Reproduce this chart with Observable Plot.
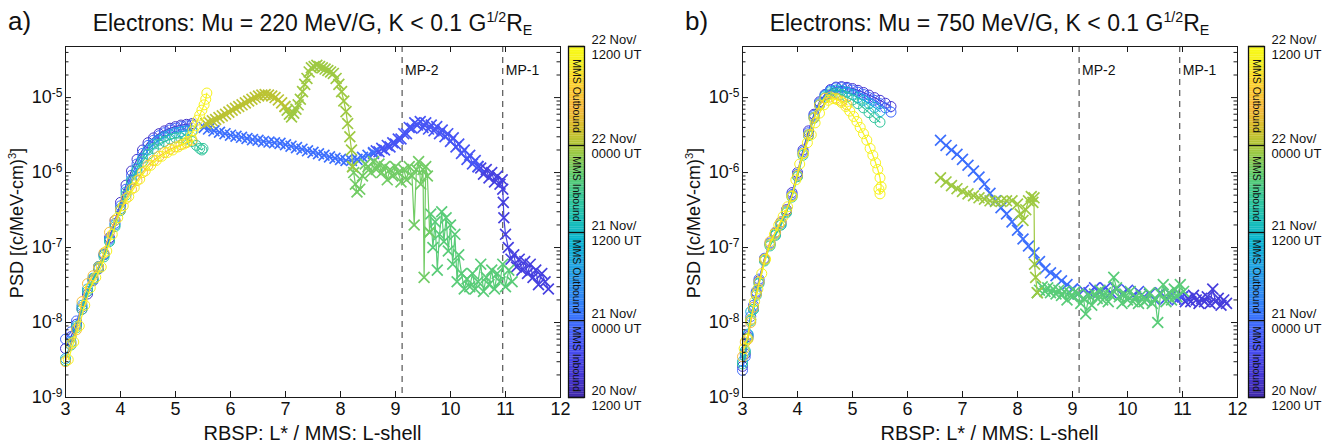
<!DOCTYPE html>
<html><head><meta charset="utf-8">
<script src="https://cdn.jsdelivr.net/npm/d3@7"></script>
<script src="https://cdn.jsdelivr.net/npm/@observablehq/plot@0.6"></script>
<style>
body{margin:0;background:#fff;}
#root{position:relative;width:1336px;height:447px;overflow:hidden;font-family:"Liberation Sans",Arial,Helvetica,sans-serif;color:#111;}
.abs{position:absolute;white-space:nowrap;}
.plabel{font-size:26px;line-height:30px;}
.title{font-size:23px;line-height:28px;text-align:center;}
.title sup,.ylab sup{font-size:0.62em;vertical-align:0;position:relative;top:-0.6em;}
.title sub{font-size:0.62em;vertical-align:0;position:relative;top:0.3em;}
.xlab{font-size:20px;line-height:22px;text-align:center;}
.ylab{font-size:18px;line-height:22px;text-align:center;transform-origin:50% 50%;transform:rotate(-90deg);}
#root svg{position:absolute;top:0;background:transparent;}
</style></head><body><div id="root"></div>
<script>
// ---------- axis / legend labels ----------
const xTicks = [3,4,5,6,7,8,9,10,11,12];
const yTicks = [1e-9,1e-8,1e-7,1e-6,1e-5];
const mpL = [9.12, 10.95];
const mpLabels = ["MP-2","MP-1"];
const cbTickPos = [0, 0.219, 0.470, 0.718, 1];
const cbTickLabels = ["20 Nov/\n1200 UT","21 Nov/\n0000 UT","21 Nov/\n1200 UT","22 Nov/\n0000 UT","22 Nov/\n1200 UT"];
const cbSegNames = ["MMS Inbound","MMS Outbound","MMS Inbound","MMS Outbound"];

// ---------- panel a: RBSP (circles) ----------
const aRbspL = [3.0,3.1,3.2,3.3,3.4,3.5,3.6,3.7,3.8,3.9,4.0,4.1,4.2,4.3,4.4,4.5,4.6,4.7,4.8,4.9,5.0,5.1,5.2,5.3];
const aRbsp1 = [4.5e-9,6.5e-9,9.5e-9,1.5e-8,2.4e-8,3.6e-8,5.2e-8,8e-8,1.35e-7,2.3e-7,4e-7,6.8e-7,1.05e-6,1.5e-6,2.0e-6,2.5e-6,2.9e-6,3.3e-6,3.6e-6,3.9e-6,4.1e-6,4.3e-6,4.4e-6,4.5e-6];
const aRbsp2 = [6e-9,7.5e-9,1.05e-8,1.6e-8,2.6e-8,3.8e-8,5.5e-8,8.2e-8,1.3e-7,2.1e-7,3.6e-7,6e-7,9.2e-7,1.3e-6,1.8e-6,2.3e-6,2.7e-6,3.1e-6,3.4e-6,3.7e-6,3.9e-6,4.1e-6,4.2e-6,4.3e-6];
const aRbsp3 = [3.3e-9,5.5e-9,9e-9,1.7e-8,2.8e-8,3.9e-8,5.6e-8,8e-8,1.25e-7,2e-7,3.3e-7,5.5e-7,8e-7,1.15e-6,1.55e-6,2.0e-6,2.4e-6,2.7e-6,3.0e-6,3.2e-6,3.4e-6,3.5e-6,3.6e-6,3.6e-6];
const aRbsp4L = [3.0,3.1,3.2,3.3,3.4,3.5,3.6,3.7,3.8,3.9,4.0,4.1,4.2,4.3,4.4,4.5,4.6,4.7,4.8,4.9,5.0,5.1,5.2,5.3,5.38,5.44,5.48,5.5];
const aRbsp4 = [3.1e-9,5e-9,8.5e-9,1.5e-8,2.6e-8,3.7e-8,5.3e-8,7.5e-8,1.2e-7,1.9e-7,3.1e-7,5e-7,7.5e-7,1.05e-6,1.4e-6,1.75e-6,2.1e-6,2.4e-6,2.6e-6,2.8e-6,2.9e-6,2.9e-6,2.8e-6,2.6e-6,2.3e-6,2.1e-6,2.0e-6,2.1e-6];
const aRbsp5 = [3e-9,5.2e-9,8e-9,1.9e-8,3.3e-8,4.2e-8,5.5e-8,8.5e-8,1.6e-7,2.3e-7,3.2e-7,4.5e-7,6e-7,7.8e-7,1.0e-6,1.25e-6,1.45e-6,1.65e-6,1.85e-6,2.05e-6,2.2e-6,2.35e-6,2.5e-6,2.7e-6];
const aRbsp6L = [3.05,3.15,3.25,3.35,3.45,3.55,3.65,3.75,3.85,3.95,4.05,4.15,4.25,4.35,4.45,4.55,4.65,4.75,4.85,4.95,5.05,5.15,5.22,5.28,5.32,5.36,5.4,5.44,5.48,5.52,5.55,5.57];
const aRbsp6 = [3.2e-9,5.5e-9,9e-9,1.7e-8,2.9e-8,4e-8,5.5e-8,9e-8,1.5e-7,2.5e-7,3.6e-7,4.8e-7,6.3e-7,8.2e-7,1.05e-6,1.25e-6,1.45e-6,1.65e-6,1.85e-6,2.0e-6,2.2e-6,2.4e-6,2.6e-6,3.0e-6,3.6e-6,4.2e-6,5e-6,5.8e-6,6.8e-6,8e-6,9.5e-6,1.15e-5];

// ---------- panel a: MMS (crosses) ----------
const aMmsIn1L = [11.78,11.72,11.66,11.6,11.55,11.5,11.45,11.4,11.35,11.3,11.25,11.2,11.15,11.1,11.05,11.0,10.97,10.96,10.95,10.94,10.9,10.85,10.8,10.75,10.7,10.65,10.6,10.55,10.5];
const aMmsIn1P = [2.8e-8,3.5e-8,4.5e-8,3.2e-8,5e-8,4e-8,6e-8,4.5e-8,6.5e-8,5e-8,7e-8,5.5e-8,8e-8,7e-8,1.0e-7,1.5e-7,2.5e-7,4e-7,6e-7,8e-7,7e-7,9e-7,7.5e-7,1.0e-6,8.5e-7,1.1e-6,9.5e-7,1.15e-6,1.2e-6];
const aMmsIn2L = [10.5,10.45,10.4,10.35,10.3,10.25,10.2,10.15,10.1,10.05,10.0,9.95,9.9,9.85,9.8,9.75,9.7,9.65,9.6,9.55,9.5,9.45,9.4,9.35,9.3,9.25,9.2,9.15,9.1,9.05,9.0,8.95,8.9,8.85,8.8,8.75,8.7,8.65,8.6];
const aMmsIn2P = [1.2e-6,1.45e-6,1.3e-6,1.7e-6,1.5e-6,2.0e-6,1.8e-6,2.4e-6,2.2e-6,2.9e-6,2.6e-6,3.3e-6,3.0e-6,3.7e-6,3.3e-6,4.1e-6,3.6e-6,4.3e-6,3.8e-6,4.6e-6,4.0e-6,4.8e-6,4.3e-6,4.6e-6,3.9e-6,4.0e-6,3.3e-6,3.3e-6,2.8e-6,2.8e-6,2.4e-6,2.5e-6,2.2e-6,2.3e-6,2.0e-6,2.1e-6,1.9e-6,1.95e-6,1.8e-6];
const aMmsOutL = [8.6,8.5,8.4,8.3,8.2,8.1,8.0,7.9,7.8,7.7,7.6,7.5,7.4,7.3,7.2,7.1,7.0,6.9,6.8,6.7,6.6,6.5,6.4,6.3,6.2,6.1,6.0,5.9,5.8,5.7,5.6,5.52];
const aMmsOutP = [1.85e-6,1.7e-6,1.6e-6,1.5e-6,1.45e-6,1.45e-6,1.5e-6,1.55e-6,1.62e-6,1.7e-6,1.78e-6,1.86e-6,1.95e-6,2.05e-6,2.15e-6,2.25e-6,2.35e-6,2.45e-6,2.5e-6,2.55e-6,2.6e-6,2.7e-6,2.75e-6,2.85e-6,2.95e-6,3.05e-6,3.15e-6,3.3e-6,3.45e-6,3.6e-6,3.8e-6,4.0e-6];
const aMmsG1L = [11.12,11.06,11.0,10.95,10.9,10.85,10.8,10.75,10.7,10.65,10.6,10.55,10.5,10.45,10.4,10.35,10.3,10.25,10.2,10.15,10.12,10.08,10.04,10.0,9.96,9.92,9.88,9.84,9.8,9.76,9.72,9.68,9.64,9.62];
const aMmsG1P = [3.5e-8,5e-8,3e-8,6e-8,3.5e-8,4.5e-8,2.8e-8,5e-8,3.2e-8,4e-8,2.6e-8,6e-8,3.5e-8,2.8e-8,4.5e-8,3e-8,3.8e-8,2.8e-8,4.5e-8,8e-8,3.5e-8,1.5e-7,6e-8,2e-7,9e-8,2.5e-7,1.2e-7,3e-7,1.5e-7,5e-8,2.2e-7,1.0e-7,2.8e-7,1.6e-7];
const aMmsG2L = [9.62,9.58,9.55,9.52,9.5,9.46,9.42,9.38,9.34,9.3,9.25,9.2,9.15,9.1,9.05,9.0,8.95,8.9,8.85,8.8,8.75,8.7,8.65,8.6,8.55,8.5,8.45,8.4,8.35,8.3,8.27,8.24,8.22];
const aMmsG2P = [1.6e-7,9e-7,1.2e-6,4e-8,1.1e-6,7e-7,1.4e-6,1.1e-6,2e-7,9e-7,1.2e-6,8e-7,1.1e-6,7.5e-7,1.0e-6,1.2e-6,9e-7,1.1e-6,8e-7,1.2e-6,1.0e-6,1.3e-6,1.1e-6,1.4e-6,1.0e-6,1.2e-6,1.3e-6,9e-7,6e-7,5.5e-7,7e-7,1.0e-6,1.2e-6];
const aMmsYgL = [8.22,8.2,8.17,8.13,8.1,8.06,8.02,7.97,7.92,7.87,7.82,7.77,7.72,7.67,7.62,7.57,7.52,7.47,7.43,7.39,7.35,7.31,7.27,7.23,7.19,7.15,7.11,7.07,7.03,6.99];
const aMmsYgP = [1.2e-6,2.0e-6,3.0e-6,4.5e-6,6.5e-6,9e-6,1.2e-5,1.5e-5,1.8e-5,2.1e-5,2.2e-5,2.3e-5,2.4e-5,2.5e-5,2.6e-5,2.7e-5,2.6e-5,2.5e-5,2.2e-5,1.8e-5,1.5e-5,1.2e-5,9.5e-6,8e-6,7e-6,6.2e-6,5.5e-6,6.0e-6,6.8e-6,7.6e-6];
const aMmsOlL = [6.99,6.93,6.87,6.81,6.75,6.69,6.63,6.57,6.51,6.45,6.39,6.33,6.27,6.21,6.15,6.09,6.03,5.97,5.91,5.85,5.79,5.73,5.67,5.61,5.55];
const aMmsOlP = [7.6e-6,8.5e-6,9.3e-6,1.0e-5,1.05e-5,1.08e-5,1.1e-5,1.08e-5,1.05e-5,1.0e-5,9.5e-6,9e-6,8.5e-6,8e-6,7.6e-6,7.2e-6,6.8e-6,6.4e-6,6.0e-6,5.7e-6,5.4e-6,5.1e-6,4.9e-6,4.7e-6,4.5e-6];

// ---------- panel b: RBSP (circles) ----------
const bRbspL = [3.0,3.05,3.1,3.15,3.2,3.25,3.3,3.4,3.5,3.6,3.7,3.8,3.9,4.0,4.1,4.2,4.3,4.4,4.5,4.6,4.7,4.8,4.9,5.0,5.1,5.2,5.3,5.4,5.5,5.6,5.7];
const bRbsp1 = [2.6e-9,3.8e-9,6.5e-9,1.1e-8,1.6e-8,2.5e-8,3.6e-8,7e-8,1.1e-7,1.6e-7,2.2e-7,3.2e-7,5.4e-7,1.0e-6,2.0e-6,3.6e-6,6e-6,8.8e-6,1.1e-5,1.28e-5,1.38e-5,1.4e-5,1.37e-5,1.32e-5,1.25e-5,1.17e-5,1.08e-5,1.0e-5,9.2e-6,8.4e-6,7.6e-6];
const bRbsp2 = [2.3e-9,3.5e-9,6.8e-9,1.2e-8,1.7e-8,2.6e-8,3.8e-8,7.2e-8,1.15e-7,1.55e-7,2.1e-7,3.1e-7,5.1e-7,9.5e-7,1.9e-6,3.4e-6,5.8e-6,8.5e-6,1.08e-5,1.25e-5,1.35e-5,1.36e-5,1.32e-5,1.26e-5,1.18e-5,1.1e-5,1.0e-5,9.2e-6,8.3e-6,7.3e-6,6.4e-6];
const bRbsp34L = [3.0,3.05,3.1,3.15,3.2,3.25,3.3,3.4,3.5,3.6,3.7,3.8,3.9,4.0,4.1,4.2,4.3,4.4,4.5,4.6,4.7,4.8,4.9,5.0,5.1,5.2,5.3,5.4,5.5];
const bRbsp3 = [3.0e-9,4.2e-9,7e-9,1.4e-8,1.5e-8,2.4e-8,3.4e-8,6.8e-8,1.1e-7,1.5e-7,2.0e-7,3.0e-7,4.9e-7,9e-7,1.8e-6,3.2e-6,5.5e-6,8.2e-6,1.05e-5,1.2e-5,1.26e-5,1.24e-5,1.18e-5,1.1e-5,1.0e-5,9.2e-6,8.3e-6,7.4e-6,6.5e-6];
const bRbsp4 = [2.8e-9,4e-9,6.2e-9,1.05e-8,1.5e-8,2.3e-8,3.3e-8,6.6e-8,1.05e-7,1.45e-7,2.0e-7,2.9e-7,4.7e-7,8.8e-7,1.7e-6,3.1e-6,5.3e-6,7.9e-6,1.0e-5,1.12e-5,1.15e-5,1.1e-5,1.02e-5,9.3e-6,8.3e-6,7.3e-6,6.3e-6,5.4e-6,4.7e-6];
const bRbsp5L = [3.0,3.05,3.1,3.15,3.2,3.25,3.3,3.4,3.5,3.6,3.7,3.8,3.9,4.0,4.1,4.2,4.3,4.4,4.5,4.6,4.7,4.8,4.9];
const bRbsp5 = [3.5e-9,5.5e-9,6e-9,1.0e-8,1.6e-8,2.4e-8,3.5e-8,7e-8,1.2e-7,1.6e-7,2.2e-7,3.1e-7,4.9e-7,9.2e-7,1.8e-6,3.2e-6,5.4e-6,8e-6,9.8e-6,1.02e-5,9.8e-6,9e-6,8e-6];
const bRbsp6L = [3.03,3.08,3.15,3.22,3.28,3.35,3.42,3.5,3.58,3.66,3.74,3.82,3.9,3.97,4.04,4.11,4.18,4.25,4.32,4.4,4.48,4.56,4.64,4.72,4.8,4.88,4.95,5.02,5.08,5.14,5.2,5.26,5.32,5.37,5.42,5.46,5.5,5.52,5.5,5.48];
const bRbsp6 = [4.5e-9,6e-9,1.1e-8,1.9e-8,2.8e-8,4.5e-8,7e-8,1.1e-7,1.5e-7,2.0e-7,2.6e-7,3.5e-7,4.8e-7,8e-7,1.3e-6,1.8e-6,2.5e-6,3.2e-6,4.6e-6,6.2e-6,8e-6,9.2e-6,9.7e-6,9.4e-6,8.6e-6,7.6e-6,6.6e-6,5.6e-6,4.8e-6,4.0e-6,3.3e-6,2.7e-6,2.1e-6,1.7e-6,1.35e-6,1.1e-6,8.5e-7,6.5e-7,5.2e-7,6e-7];

// ---------- panel b: MMS (crosses) ----------
const bMmsIn1L = [11.8,11.75,11.7,11.65,11.6,11.55,11.5,11.45,11.4,11.35,11.3,11.25,11.2,11.15,11.1,11.05,11.0];
const bMmsIn1P = [1.8e-8,2.0e-8,1.7e-8,2.1e-8,1.9e-8,2.8e-8,1.8e-8,2.2e-8,1.9e-8,2.1e-8,1.8e-8,2.0e-8,2.3e-8,1.9e-8,2.1e-8,1.9e-8,2.2e-8];
const bMmsIn2L = [11.0,10.9,10.8,10.7,10.6,10.5,10.4,10.3,10.2,10.1,10.0,9.9,9.8,9.7,9.6,9.5,9.4,9.3,9.2,9.1,9.0];
const bMmsIn2P = [2.2e-8,2.0e-8,2.3e-8,2.1e-8,2.5e-8,2.0e-8,2.4e-8,2.2e-8,2.6e-8,2.3e-8,2.7e-8,2.4e-8,2.8e-8,2.5e-8,2.9e-8,2.6e-8,2.9e-8,2.5e-8,2.7e-8,2.4e-8,2.8e-8];
const bMmsOutL = [9.0,8.9,8.8,8.7,8.6,8.5,8.4,8.3,8.2,8.1,8.0,7.9,7.8,7.7,7.6,7.5,7.4,7.3,7.2,7.1,7.0,6.9,6.8,6.7,6.6];
const bMmsOutP = [2.8e-8,3.2e-8,3.6e-8,4.2e-8,4.6e-8,5.2e-8,6.5e-8,8.5e-8,1.05e-7,1.3e-7,1.7e-7,2.2e-7,2.8e-7,3.4e-7,4.2e-7,5.3e-7,7e-7,8.7e-7,1.05e-6,1.25e-6,1.5e-6,1.75e-6,2.0e-6,2.3e-6,2.7e-6];
const bMmsGL = [11.02,10.96,10.9,10.85,10.8,10.75,10.7,10.65,10.6,10.55,10.5,10.45,10.4,10.35,10.3,10.25,10.2,10.15,10.1,10.05,10.0,9.95,9.9,9.85,9.8,9.75,9.7,9.65,9.6,9.55,9.5,9.45,9.4,9.35,9.3,9.24,9.2,9.15,9.1,9.05,9.0,8.95,8.9,8.85,8.8,8.75,8.7,8.65,8.6,8.55,8.5,8.45,8.4,8.36];
const bMmsGP = [2.6e-8,3.2e-8,2.2e-8,2.8e-8,2.0e-8,2.5e-8,1.9e-8,3.2e-8,2.4e-8,1.0e-8,2.1e-8,1.8e-8,2.5e-8,2.0e-8,1.9e-8,2.3e-8,1.8e-8,2.2e-8,1.9e-8,2.6e-8,2.0e-8,2.4e-8,1.8e-8,2.2e-8,2.9e-8,4.0e-8,2.3e-8,1.9e-8,2.5e-8,2.0e-8,2.7e-8,2.1e-8,2.4e-8,1.7e-8,2.3e-8,1.3e-8,2.1e-8,1.8e-8,2.4e-8,2.6e-8,2.2e-8,2.5e-8,2.0e-8,2.6e-8,2.3e-8,2.7e-8,2.4e-8,2.8e-8,2.5e-8,2.9e-8,2.6e-8,3.0e-8,2.7e-8,2.5e-8];
const bMmsYgL = [8.36,8.33,8.31,8.3,8.28,8.25,8.2,8.15,8.1,8.05,8.0,7.9,7.8,7.7,7.6,7.5,7.4,7.3,7.2,7.1,7.0,6.9,6.8,6.7,6.6];
const bMmsYgP = [2.5e-8,4e-8,6e-8,4.6e-7,4.0e-7,4.8e-7,4.2e-7,3.2e-7,2.3e-7,2.8e-7,3.8e-7,4.2e-7,4.2e-7,4.1e-7,4.1e-7,4.2e-7,4.4e-7,4.6e-7,4.9e-7,5.2e-7,5.6e-7,6.1e-7,6.7e-7,7.5e-7,8.5e-7];

// ---------- colour map (parula) ----------
const parulaIdx = [0,4,8,12,16,20,24,28,32,36,40,44,48,52,56,60,63];
const parulaRGB = [[0.2422,0.1504,0.6603],[0.2706,0.2147,0.8364],[0.2813,0.3006,0.9414],[0.2699,0.3892,0.9906],[0.1963,0.4847,0.9892],[0.1687,0.5720,0.9359],[0.1248,0.6559,0.8877],[0.0297,0.7082,0.8163],[0.0964,0.7500,0.7120],[0.2161,0.7843,0.5923],[0.3909,0.8029,0.4354],[0.6174,0.7876,0.2612],[0.8203,0.7498,0.1535],[0.9728,0.7298,0.2394],[0.9892,0.8136,0.1885],[0.9628,0.9373,0.1265],[0.9769,0.9839,0.0805]];
const parula = d3.scaleLinear().domain(parulaIdx.map(i=>i/63))
  .range(parulaRGB.map(a=>d3.rgb(a[0]*255,a[1]*255,a[2]*255).formatHex()))
  .interpolate(d3.interpolateRgb).clamp(true);

const tracksA = [
  {L:aRbspL, P:aRbsp1, c:0.05, m:"o"},
  {L:aRbspL, P:aRbsp2, c:0.20, m:"o"},
  {L:aRbspL, P:aRbsp3, c:0.40, m:"o"},
  {L:aRbsp4L, P:aRbsp4, c:0.56, m:"o"},
  {L:aRbspL, P:aRbsp5, c:0.84, m:"o"},
  {L:aRbsp6L, P:aRbsp6, c:0.97, m:"o"},
  {L:aMmsIn1L, P:aMmsIn1P, c:0.09, m:"x"},
  {L:aMmsIn2L, P:aMmsIn2P, c:0.15, m:"x"},
  {L:aMmsOutL, P:aMmsOutP, c:0.22, m:"x"},
  {L:aMmsG1L, P:aMmsG1P, c:0.62, m:"x"},
  {L:aMmsG2L, P:aMmsG2P, c:0.65, m:"x"},
  {L:aMmsYgL, P:aMmsYgP, c:0.70, m:"x"},
  {L:aMmsOlL, P:aMmsOlP, c:0.735, m:"x"}
];
const tracksB = [
  {L:bRbspL, P:bRbsp1, c:0.06, m:"o"},
  {L:bRbspL, P:bRbsp2, c:0.21, m:"o"},
  {L:bRbsp34L, P:bRbsp3, c:0.42, m:"o"},
  {L:bRbsp34L, P:bRbsp4, c:0.56, m:"o"},
  {L:bRbsp5L, P:bRbsp5, c:0.84, m:"o"},
  {L:bRbsp6L, P:bRbsp6, c:0.97, m:"o"},
  {L:bMmsIn1L, P:bMmsIn1P, c:0.08, m:"x"},
  {L:bMmsIn2L, P:bMmsIn2P, c:0.15, m:"x"},
  {L:bMmsOutL, P:bMmsOutP, c:0.22, m:"x"},
  {L:bMmsGL, P:bMmsGP, c:0.62, m:"x"},
  {L:bMmsYgL, P:bMmsYgP, c:0.70, m:"x"}
];

const FONT = "'Liberation Sans', Arial, Helvetica, sans-serif";
const W = 668, H = 447, mL = 65, mT = 46, mR = 108, mB = 50;
const iw = W - mL - mR, ih = H - mT - mB;
const yTop = 4.8e-5;

function panel(tracks) {
  const minor = [];
  for (let e = -9; e <= -5; e++) for (let k = 2; k <= 9; k++) { const v = k * Math.pow(10, e); if (v < yTop) minor.push(v); }
  const marks = [];
  marks.push(Plot.ruleX(mpL, {x: d => d, stroke: "#333", strokeWidth: 1, strokeDasharray: "6,5"}));
  marks.push(Plot.text(mpL, {x: d => d, text: (d, i) => mpLabels[i], frameAnchor: "top", dx: 3, dy: 19, textAnchor: "start", fontSize: 14, fill: "#111"}));
  const sorted = tracks.slice().sort((a, b) => a.c - b.c);
  for (const t of sorted) {
    const rows = t.L.map((L, i) => ({L, p: t.P[i]}));
    const col = parula(t.c);
    marks.push(Plot.line(rows, {x: "L", y: "p", stroke: col, strokeWidth: 1.2}));
    if (t.m === "o") marks.push(Plot.dot(rows, {x: "L", y: "p", stroke: col, r: 5, strokeWidth: 1}));
    else marks.push(Plot.dot(rows, {x: "L", y: "p", stroke: col, symbol: "times", r: 5, strokeWidth: 1.7}));
  }
  marks.push(Plot.frame({stroke: "#1a1a1a"}));
  marks.push(Plot.tickX(xTicks, {x: d => d, insetBottom: ih - 6, stroke: "#1a1a1a"}));
  marks.push(Plot.tickX(xTicks, {x: d => d, insetTop: ih - 6, stroke: "#1a1a1a"}));
  marks.push(Plot.tickY(yTicks, {y: d => d, insetRight: iw - 6, stroke: "#1a1a1a"}));
  marks.push(Plot.tickY(yTicks, {y: d => d, insetLeft: iw - 6, stroke: "#1a1a1a"}));
  marks.push(Plot.tickY(minor, {y: d => d, insetRight: iw - 3.5, stroke: "#1a1a1a"}));
  marks.push(Plot.tickY(minor, {y: d => d, insetLeft: iw - 3.5, stroke: "#1a1a1a"}));
  marks.push(Plot.axisX({ticks: xTicks, tickSize: 0, tickPadding: 5, fontSize: 18, label: null, tickFormat: d => String(d)}));
  marks.push(Plot.axisY({ticks: yTicks, tickSize: 0, tickPadding: 3, fontSize: 18, label: null, tickFormat: d => "10^" + Math.round(Math.log10(d))}));
  const svg = Plot.plot({
    width: W, height: H, marginLeft: mL, marginTop: mT, marginRight: mR, marginBottom: mB,
    x: {domain: [3, 12]},
    y: {type: "log", domain: [1e-9, yTop]},
    style: {fontFamily: FONT, fontSize: "18px", color: "#111", background: "transparent"},
    marks
  });
  svg.querySelectorAll("text").forEach(t => {
    const s = t.textContent;
    if (s.indexOf("^") >= 0 && t.children.length === 0) {
      const [b, e] = s.split("^");
      t.textContent = "";
      const ns = "http://www.w3.org/2000/svg";
      const t1 = document.createElementNS(ns, "tspan"); t1.textContent = b;
      const t2 = document.createElementNS(ns, "tspan"); t2.textContent = e;
      t2.setAttribute("dy", "-0.55em"); t2.setAttribute("font-size", "12px");
      t.appendChild(t1); t.appendChild(t2);
    }
  });
  return svg;
}

function colorbar() {
  const strips = d3.range(0, 1, 0.005);
  return Plot.plot({
    width: 110, height: H, marginTop: mT, marginBottom: mB, marginLeft: 0, marginRight: 110 - 16,
    x: {domain: [0, 1], axis: null}, y: {domain: [0, 1], axis: null},
    color: {type: "identity"},
    style: {fontFamily: FONT, color: "#111", background: "transparent", overflow: "visible"},
    marks: [
      Plot.rect(strips, {x1: 0, x2: 1, y1: d => d, y2: d => d + 0.0055, fill: d => parula(d + 0.0025)}),
      Plot.ruleY(cbTickPos, {y: d => d, stroke: "#111", strokeWidth: 1.3}),
      Plot.frame({stroke: "#111", strokeWidth: 1.3}),
      Plot.text(cbSegNames, {x: 0.5, y: (d, i) => (cbTickPos[i] + cbTickPos[i + 1]) / 2, text: d => d, rotate: 90, fontSize: 10.5, fill: "#111"}),
      Plot.text(cbTickLabels, {x: 1, y: (d, i) => cbTickPos[i], text: d => d, dx: 7, textAnchor: "start", fontSize: 13, lineHeight: 1.15, fill: "#111"})
    ]
  });
}

const root = document.getElementById("root");
function place(el, left) { el.style.left = left + "px"; root.appendChild(el); }
function div(cls, html, css) { const d = document.createElement("div"); d.className = "abs " + cls; d.innerHTML = html; Object.assign(d.style, css); root.appendChild(d); }

place(panel(tracksA), 0);
place(panel(tracksB), 677);
place(colorbar(), 568);
place(colorbar(), 1248);

const titleA = "Electrons: Mu = 220 MeV/G, K &lt; 0.1 G<sup>1/2</sup>R<sub>E</sub>";
const titleB = "Electrons: Mu = 750 MeV/G, K &lt; 0.1 G<sup>1/2</sup>R<sub>E</sub>";
const xLab = "RBSP: L* / MMS: L-shell";
const yLab = "PSD [(c/MeV-cm)<sup>3</sup>]";
[[0, "a)", titleA], [677, "b)", titleB]].forEach(([off, p, t]) => {
  div("plabel", p, {left: (off + 8) + "px", top: "6px"});
  div("title", t, {left: (off + mL) + "px", width: iw + "px", top: "9px"});
  div("xlab", xLab, {left: (off + mL) + "px", width: iw + "px", top: "422px"});
  div("ylab", yLab, {left: (off + 18 - 175) + "px", width: "350px", top: (mT + ih / 2 - 11) + "px"});
});
</script></body></html>
